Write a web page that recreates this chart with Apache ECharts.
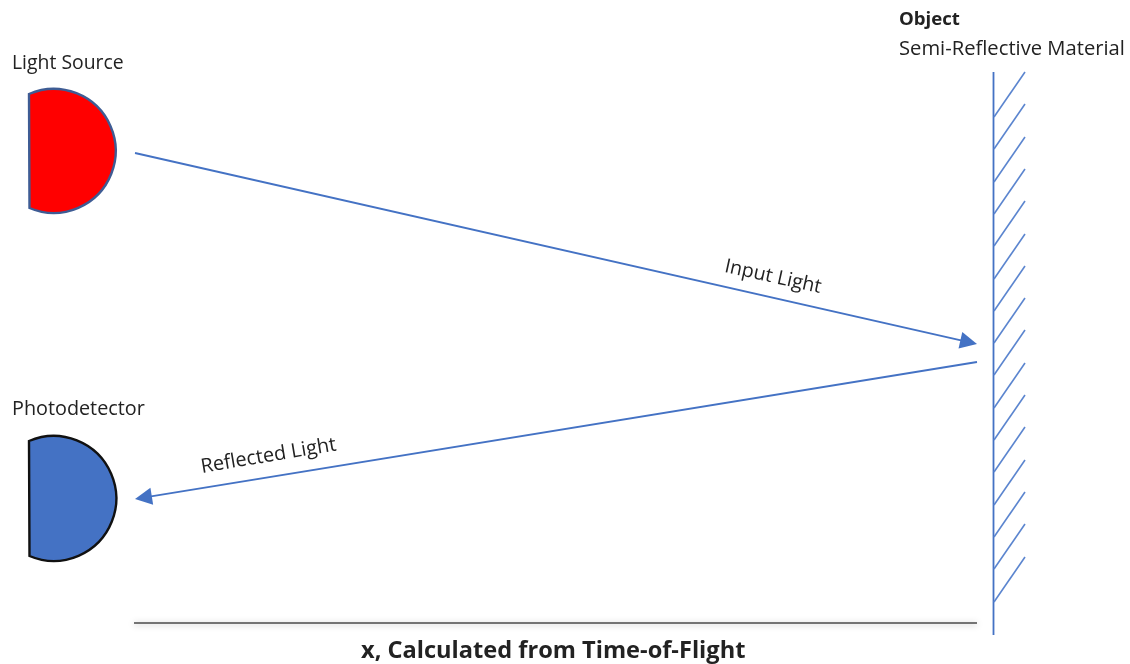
<!DOCTYPE html>
<html><head><meta charset="utf-8">
<style>html,body{margin:0;padding:0;background:#fff}#c{width:1130px;height:664px}</style>
<script src="https://cdn.jsdelivr.net/npm/echarts@6/dist/echarts.min.js"></script>
</head><body><div id="c"></div>
<script>
var sourceOutline = [29, 94, 29.5, 208, 62];
var detectorOutline = [29, 441, 29.5, 556, 62.5];
var inputRay = [[135, 153], [968.7, 342.1]];
var reflectedRay = [[977, 362], [143.4, 497.6]];
var wall = [[993.5, 72], [993.5, 635]];
var baseline = [[134, 623], [977, 623]];
var hatchBottomY = [117, 149, 182, 214, 246, 279, 311, 343, 375, 408, 440, 472, 505, 537, 569, 602];
var hatchTopY = [72, 104, 137, 169, 201, 234, 266, 298, 330, 363, 395, 427, 460, 492, 524, 557];
var hatchX = [994, 1025];
var textLabels = [
  ['Light Source', 12, 63, 0, 'normal', 19.4],
  ['Photodetector', 12, 409, 0, 'normal', 19.8],
  ['Object', 899, 20, 0, 'bold', 18.6],
  ['Semi-Reflective Material', 899, 49, 0, 'normal', 20.2],
  ['Input Light', 773, 277, -12.5, 'normal', 19.6],
  ['Reflected Light', 268.5, 456, 9.5, 'normal', 19.9],
  ['x, Calculated from Time-of-Flight', 361, 651, 0, 'bold', 23.6]
];
var BLUE = '#4472C4';
var FONT = '"Open Sans","Noto Sans",sans-serif';

function disc(values, fill, stroke) {
  return {
    type: 'custom', coordinateSystem: 'cartesian2d', data: [values], silent: true,
    renderItem: function (p, api) {
      var a = api.coord([api.value(0), api.value(1)]);
      var b = api.coord([api.value(2), api.value(3)]);
      var r = api.size([api.value(4), 0])[0];
      return {
        type: 'path',
        shape: {
          pathData: 'M' + a[0] + ' ' + a[1] + ' A' + r + ' ' + r + ' 0 1 1 ' + b[0] + ' ' + b[1] + ' Z',
          layout: 'none'
        },
        style: { fill: fill, stroke: stroke, lineWidth: 2.4, lineJoin: 'miter' }
      };
    }
  };
}
function line(pts, color, width, extra) {
  return {
    type: 'line', data: pts, symbol: 'none', silent: true, animation: false,
    lineStyle: Object.assign({ color: color, width: width }, extra || {})
  };
}
function arrow(pts) {
  return {
    type: 'lines', coordinateSystem: 'cartesian2d', silent: true, animation: false,
    symbol: ['none', 'triangle'], symbolSize: 17,
    lineStyle: { color: BLUE, width: 1.8, opacity: 1, curveness: 0 },
    itemStyle: { color: BLUE },
    data: [{ coords: pts }]
  };
}
var hatchSeries = hatchBottomY.map(function (y, i) {
  return line([[hatchX[0], y], [hatchX[1], hatchTopY[i]]], '#5B85CF', 1.6);
});
var series = [
  disc(sourceOutline, '#FF0000', '#3E5C94'),
  disc(detectorOutline, BLUE, '#111111'),
  arrow(inputRay),
  arrow(reflectedRay),
  line(wall, BLUE, 1.8),
  line(baseline, '#4a4a4a', 1.6, { shadowBlur: 6, shadowColor: 'rgba(0,0,0,0.35)', shadowOffsetY: 1 })
].concat(hatchSeries);
series.push({
  type: 'custom', coordinateSystem: 'cartesian2d', silent: true,
  data: textLabels.map(function (t, i) { return [t[1], t[2], i]; }),
  renderItem: function (p, api) {
    var t = textLabels[api.value(2)];
    var c = api.coord([t[1], t[2]]);
    var centred = t[3] !== 0;
    return {
      type: 'text', x: c[0], y: c[1], rotation: t[3] * Math.PI / 180,
      style: {
        text: t[0], fill: '#222222', fontFamily: FONT, fontSize: t[5], fontWeight: t[4],
        textAlign: centred ? 'center' : 'left', textVerticalAlign: 'middle'
      }
    };
  }
});
var chart = echarts.init(document.getElementById('c'), null, { renderer: 'canvas' });
chart.setOption({
  animation: false, backgroundColor: '#ffffff',
  grid: { left: 0, right: 0, top: 0, bottom: 0 },
  xAxis: { type: 'value', min: 0, max: 1130, show: false },
  yAxis: { type: 'value', min: 0, max: 664, inverse: true, show: false },
  series: series
});
</script></body></html>
